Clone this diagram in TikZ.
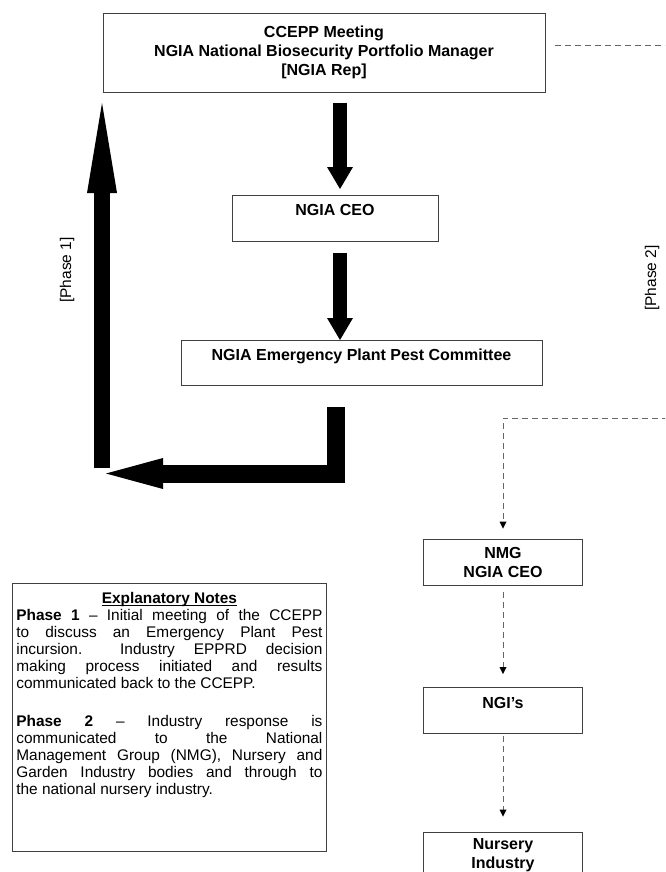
\documentclass[tikz,border=0pt]{standalone}
\usepackage{fontspec}
\setmainfont{Liberation Sans}
\usetikzlibrary{arrows.meta,calc}

\begin{document}
\begin{tikzpicture}[x=1pt,y=-1pt,
  box/.style={draw=black!75,line width=0.8pt,inner sep=0pt,align=center,
    font=\fontsize{16}{19}\selectfont\bfseries},
  bigarrow/.style={line width=14pt,-{Triangle[width=26pt,length=22pt,line width=0pt]}},
  phasetwo/.style={draw=black!60,line width=0.9pt,dash pattern=on 6pt off 4pt,
    -{Triangle[width=7pt,length=7pt,line width=0pt,fill=black]}},
  phaselabel/.style={rotate=90,font=\fontsize{15.5}{18}\selectfont}]
\useasboundingbox (0,0) rectangle (665,872);
\clip (0,0) rectangle (665,872);

% boxes of phase 1
\node[box,minimum width=442pt,minimum height=79pt] (ccepp) at (324,52.5)
  {CCEPP Meeting\\NGIA National Biosecurity Portfolio Manager\\{[NGIA Rep]}};
\node[box,minimum width=206pt,minimum height=46pt,text depth=16pt] (ceo) at (335,218) {NGIA CEO};
\node[box,minimum width=361pt,minimum height=45pt,text depth=16pt] (epc) at (361.5,362.5)
  {NGIA Emergency Plant Pest Committee};

% boxes of phase 2
\node[box,minimum width=159pt,minimum height=46pt] (nmg) at (503,562) {NMG\\NGIA CEO};
\node[box,minimum width=159pt,minimum height=46pt,text depth=16pt] (ngis) at (503,710.5) {NGI’s};
\node[box,minimum width=159pt,minimum height=46pt] (nursery) at (503,855) {Nursery\\Industry};

% thick arrows
\coordinate (a1top) at (340,103);
\coordinate (a1tip) at (340,189);
\coordinate (a2top) at (340,253);
\coordinate (a2tip) at (340,340);
\draw[bigarrow] (a1top)--(a1tip);
\draw[bigarrow] (a2top)--(a2tip);

\coordinate (back1) at (336,407);
\coordinate (back2) at (336,473.5);
\coordinate (back3) at (106,473.5);
\draw[line width=18pt,-{Triangle[width=31pt,length=57pt,line width=0pt]}] (back1)--(back2)--(back3);
\coordinate (up1) at (102,468);
\coordinate (up2) at (102,103);
\draw[line width=16pt,-{Triangle[width=30pt,length=90pt,line width=0pt]}] (up1)--(up2);

\node[phaselabel] (ph1) at (67,270) {[Phase 1]};
\node[phaselabel] (ph2) at (652,278) {[Phase 2]};

% dashed links
\coordinate (p2ne) at (700,45);
\coordinate (p2se) at (700,418);
\draw[phasetwo] ([xshift=10pt,yshift=7.5pt]ccepp.east)--(p2ne)--(p2se)-|([yshift=10pt]nmg.north);
\draw[phasetwo] ([yshift=-7pt]nmg.south)--([yshift=13pt]ngis.north);
\draw[phasetwo] ([yshift=-2pt]ngis.south)--([yshift=15pt]nursery.north);

% notes
\node[draw=black!75,line width=0.8pt,anchor=north west,inner xsep=4pt,inner ysep=9pt] (notes) at (12,583)
  {\parbox[t][250pt][t]{306pt}{\fontsize{15.4}{17}\selectfont
  {\centering\underline{\raisebox{0pt}[\height][0pt]{\textbf{Explanatory Notes}}}\par}
  \textbf{Phase 1} – Initial meeting of the CCEPP\linebreak
  to discuss an Emergency Plant Pest\linebreak
  incursion.\ \ Industry EPPRD decision\linebreak
  making process initiated and results\linebreak
  communicated back to the CCEPP.\par
  \vspace{21pt}
  \textbf{Phase 2} – Industry response is\linebreak
  communicated to the National\linebreak
  Management Group (NMG), Nursery and\linebreak
  Garden Industry bodies and through to\linebreak
  the national nursery industry.\par}};

\end{tikzpicture}
\end{document}
